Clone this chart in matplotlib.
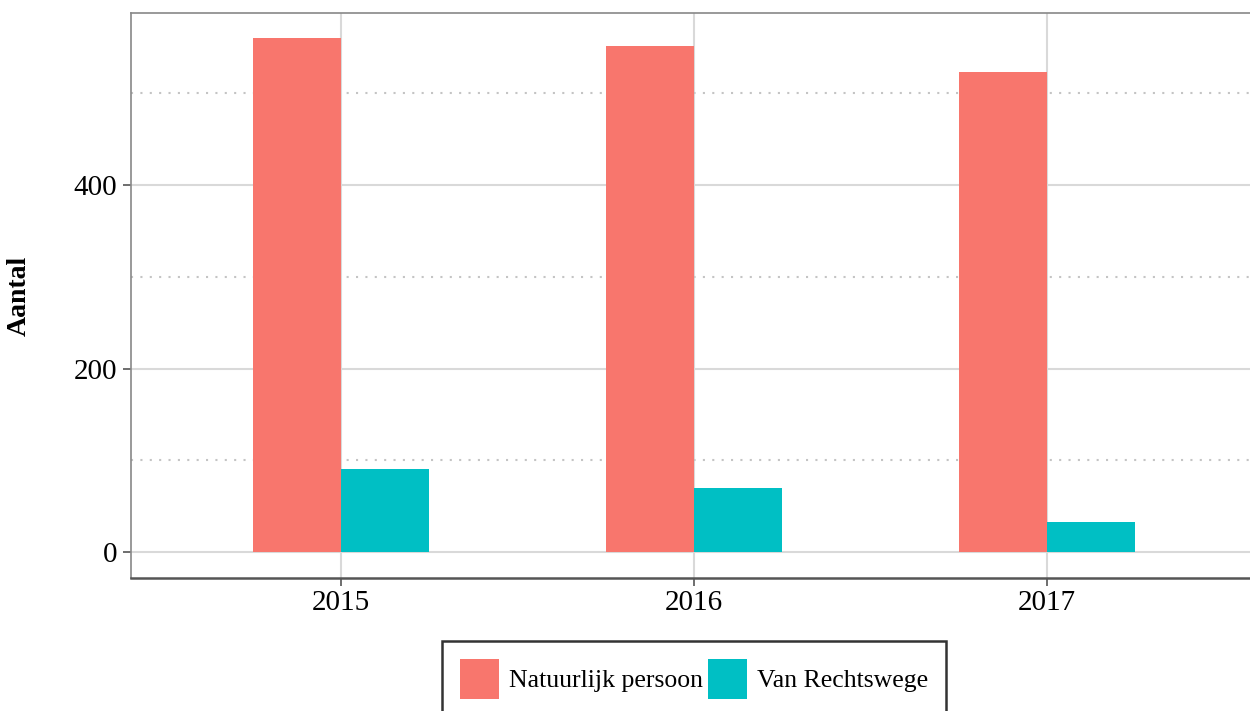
import matplotlib.pyplot as plt
import numpy as np

plt.rcParams['font.family'] = ['Liberation Serif', 'DejaVu Serif']

# data
years = ['2015', '2016', '2017']
natuurlijk = [560, 552, 523]
rechtswege = [90, 70, 33]

red = '#F8766D'
cyan = '#00BFC4'

fig = plt.figure(figsize=(12.5, 7.11), dpi=100)
ax = fig.add_axes([131 / 1250, 1 - 578 / 711, 1121 / 1250, 565 / 711])

x = np.arange(len(years))
w = 0.25
ax.bar(x - w / 2, natuurlijk, width=w, color=red, label='Natuurlijk persoon', zorder=3)
ax.bar(x + w / 2, rechtswege, width=w, color=cyan, label='Van Rechtswege', zorder=3)

ax.set_xlim(-0.595, 2.58)
ax.set_ylim(-28.3, 587.5)
ax.set_xticks(x)
ax.set_xticklabels(years)
ax.set_yticks([0, 200, 400])
ax.set_yticks([100, 300, 500], minor=True)

ax.grid(which='major', color='#d9d9d9', linewidth=1.5, zorder=0)
ax.grid(which='minor', axis='y', color='#c4c4c4', linewidth=1.5, linestyle=(0, (1, 3.5)), zorder=0)
ax.tick_params(axis='y', which='minor', length=0)
ax.tick_params(which='major', length=6, width=1.2, color='#555555', labelsize=21, pad=4)
ax.tick_params(axis='x', pad=3)

ax.spines['right'].set_visible(False)
ax.spines['top'].set_color('#888888')
ax.spines['left'].set_color('#888888')
ax.spines['bottom'].set_color('#555555')
ax.spines['bottom'].set_linewidth(1.8)
ax.spines['left'].set_linewidth(1.2)
ax.spines['top'].set_linewidth(1.2)

ax.set_ylabel('Aantal', fontsize=20, fontweight='bold', labelpad=30)

leg = fig.legend(loc='upper center', bbox_to_anchor=(694 / 1250, 1 - 641 / 711),
                 ncol=2, fontsize=18.5, frameon=True, fancybox=False,
                 handlelength=1.5, handleheight=2.0, handletextpad=0.4,
                 columnspacing=0.2, borderpad=0.7, borderaxespad=0)
leg.get_frame().set_edgecolor('black')
leg.get_frame().set_linewidth(1.8)

fig.savefig('out.png', dpi=100)
